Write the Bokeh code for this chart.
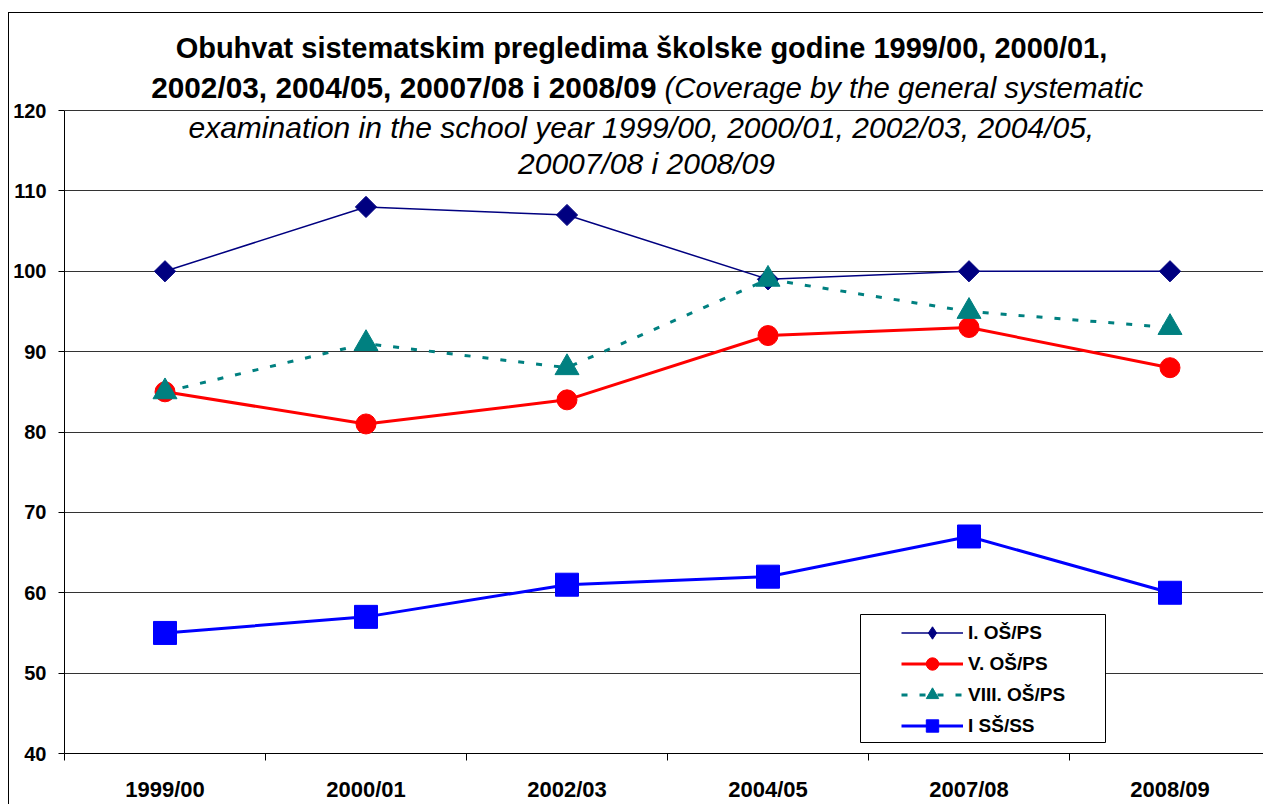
import numpy as np
from bokeh.plotting import figure
from bokeh.models import Range1d, FixedTicker, Legend, LegendItem, Label, BoxAnnotation
from bokeh.embed import file_html
from bokeh.resources import INLINE

# ---- data ----
years = ["1999/00", "2000/01", "2002/03", "2004/05", "2007/08", "2008/09"]
s_i_os = [100, 108, 107, 99, 100, 100]
s_v_os = [85, 81, 84, 92, 93, 88]
s_viii_os = [85, 91, 88, 99, 95, 93]
s_i_ss = [55, 57, 61, 62, 67, 60]
names = ["I. OŠ/PS", "V. OŠ/PS", "VIII. OŠ/PS", "I SŠ/SS"]
y_ticks = [40, 50, 60, 70, 80, 90, 100, 110, 120]

title_l1 = "Obuhvat sistematskim pregledima školske godine 1999/00,  2000/01,"
title_l2_bold = "2002/03, 2004/05, 20007/08 i 2008/09"
title_l2_it = "(Coverage by the general systematic"
title_l3 = "examination in the school year 1999/00,  2000/01, 2002/03, 2004/05,"
title_l4 = "20007/08 i 2008/09"

FONT = "Liberation Sans"
xpos = [i + 0.5 for i in range(len(years))]

# canvas origin on page (after margin + 1px border)
OX, OY = 9, 13
W, H = 1264 - OX, 805 - OY
FL, FB = 64, 753           # frame left / bottom on page
PXU = 201.0                # px per category
PYU = 8.0375               # px per y unit

p = figure(width=W, height=H, output_backend="svg", toolbar_location=None,
           x_range=Range1d(0, (1264 - FL) / PXU),
           y_range=Range1d(40, 120 + (110 - OY) / PYU),
           min_border_left=FL - OX, min_border_right=0, min_border_top=0,
           min_border_bottom=OY + H - FB, background_fill_color="white",
           border_fill_color="white")
p.margin = (12, 0, 0, 8)
p.styles = {"border-left": "1px solid black", "border-top": "1px solid black"}
p.outline_line_color = None
p.xgrid.grid_line_color = None
p.ygrid.grid_line_color = "#333333"
p.ygrid.grid_line_width = 1
p.ygrid.ticker = FixedTicker(ticks=y_ticks)

# y axis
p.yaxis.ticker = FixedTicker(ticks=y_ticks)
p.yaxis.bounds = (40, 120)
p.yaxis.axis_line_color = "black"
p.yaxis.major_tick_line_color = "black"
p.yaxis.major_tick_out = 6
p.yaxis.major_tick_in = 0
p.yaxis.minor_tick_line_color = None
p.yaxis.major_label_text_font = FONT
p.yaxis.major_label_text_font_style = "bold"
p.yaxis.major_label_text_font_size = "20px"
p.yaxis.major_label_text_color = "black"
p.yaxis.major_label_standoff = 12

# x axis
p.xaxis.ticker = FixedTicker(ticks=xpos, minor_ticks=list(range(len(years) + 1)))
p.xaxis.major_label_overrides = {x: y for x, y in zip(xpos, years)}
p.xaxis.axis_line_color = "black"
p.xaxis.major_tick_line_color = None
p.xaxis.major_tick_out = 0
p.xaxis.major_tick_in = 0
p.xaxis.minor_tick_line_color = "black"
p.xaxis.minor_tick_out = 7
p.xaxis.minor_tick_in = 0
p.xaxis.major_label_text_font = FONT
p.xaxis.major_label_text_font_style = "bold"
p.xaxis.major_label_text_font_size = "22px"
p.xaxis.major_label_text_color = "black"
p.xaxis.major_label_standoff = 16

# series
r1l = p.line(xpos, s_i_os, line_color="#000080", line_width=1.5)
r1m = p.scatter(xpos, s_i_os, marker="square", size=15, angle=np.pi / 4,
                fill_color="#000080", line_color="#000080")
# legend-only symbol (draws nothing in the plot area)
r1leg = p.scatter([np.nan], [np.nan], marker="diamond", size=15,
                  fill_color="#000080", line_color="#000080")
r2l = p.line(xpos, s_v_os, line_color="#FF0000", line_width=3)
r2m = p.scatter(xpos, s_v_os, marker="circle", size=20, fill_color="#FF0000",
                line_color="#FF0000")
r3l = p.line(xpos, s_viii_os, line_color="#008080", line_width=3, line_dash="6 12")
r3m = p.scatter(xpos, s_viii_os, marker="triangle", size=24, fill_color="#008080",
                line_color="#008080")
r4l = p.line(xpos, s_i_ss, line_color="#0000FF", line_width=3)
r4m = p.scatter(xpos, s_i_ss, marker="square", size=23, fill_color="#0000FF",
                line_color="#0000FF")


def dx(px):
    return (px - FL) / PXU


def dy(py):
    return 40 + (FB - py) / PYU


# legend box
box = BoxAnnotation(left=dx(860), right=dx(1105), bottom=dy(742), top=dy(614),
                    fill_color="white", fill_alpha=1, line_color="black",
                    line_width=1, line_alpha=1)
p.add_layout(box)

legend = Legend(items=[LegendItem(label=names[0], renderers=[r1l, r1leg]),
                       LegendItem(label=names[1], renderers=[r2l, r2m]),
                       LegendItem(label=names[2], renderers=[r3l, r3m]),
                       LegendItem(label=names[3], renderers=[r4l, r4m])],
                location=(901 - FL, 12), border_line_color=None,
                background_fill_alpha=0, padding=0, margin=0, spacing=0,
                glyph_width=62, glyph_height=31, label_height=31,
                label_standoff=5, label_text_font=FONT,
                label_text_font_style="bold", label_text_font_size="19px",
                label_text_color="black")
p.add_layout(legend)

# title lines
common = dict(text_font=FONT, text_color="black", text_baseline="middle")
p.add_layout(Label(x=dx(645), y=dy(47), text=title_l1, text_align="center",
                   text_font_style="bold", text_font_size="29px", **common))
p.add_layout(Label(x=dx(656), y=dy(87), text=title_l2_bold, text_align="right",
                   text_font_style="bold", text_font_size="29.8px", **common))
p.add_layout(Label(x=dx(664), y=dy(87), text=title_l2_it, text_align="left",
                   text_font_style="italic", text_font_size="29.4px", **common))
p.add_layout(Label(x=dx(645), y=dy(127), text=title_l3, text_align="center",
                   text_font_style="italic", text_font_size="30px", **common))
p.add_layout(Label(x=dx(646), y=dy(163), text=title_l4, text_align="center",
                   text_font_style="italic", text_font_size="30px", **common))

open("out.html", "w").write(file_html(p, INLINE))
